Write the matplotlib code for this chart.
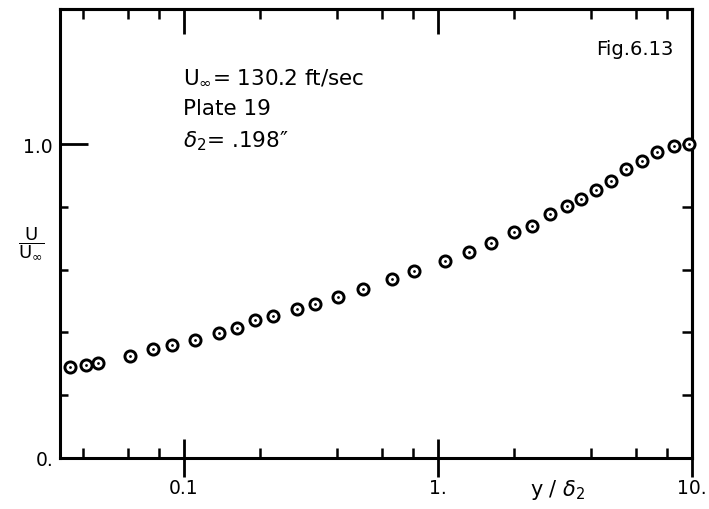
# Fig 6.13 velocity profile, U/Uinf vs y/delta2 (semi-log)

import matplotlib.pyplot as plt
import numpy as np

y_d2 = [0.0356, 0.0411, 0.0457, 0.0613, 0.0756, 0.0898, 0.111, 0.137,
        0.161, 0.190, 0.225, 0.278, 0.327, 0.403, 0.507, 0.657,
        0.807, 1.07, 1.32, 1.62, 2.00, 2.34, 2.77, 3.23,
        3.67, 4.18, 4.79, 5.51, 6.34, 7.31, 8.51, 9.77]
u_ratio = [0.289, 0.296, 0.301, 0.326, 0.348, 0.359, 0.376, 0.398,
           0.415, 0.439, 0.451, 0.475, 0.490, 0.512, 0.539, 0.570,
           0.597, 0.628, 0.656, 0.685, 0.720, 0.739, 0.776, 0.801,
           0.825, 0.853, 0.883, 0.919, 0.946, 0.975, 0.995, 1.000]

x_major = [0.1, 1, 10]
x_major_labels = ["0.1", "1.", "10."]
x_minor = [0.04, 0.06, 0.08, 0.2, 0.4, 0.6, 0.8, 2, 4, 6, 8]
y_major = [0, 1.0]
y_major_labels = ["0.", "1.0"]
y_minor = [0.2, 0.4, 0.6, 0.8]

W, H = 709, 510
fig = plt.figure(figsize=(W / 100, H / 100), dpi=100)
ax = fig.add_axes([60 / W, 1 - 459 / H, (692 - 60) / W, (459 - 10) / H])

ax.plot(y_d2, u_ratio, linestyle="none", marker="o", ms=8, mfc="white",
        mec="black", mew=2.1, clip_on=False, zorder=3)
ax.plot(y_d2, u_ratio, linestyle="none", marker="o", ms=2.0, mfc="black",
        mec="black", mew=0, clip_on=False, zorder=4)

ax.set_xscale("log")
ax.set_xlim(0.0325, 10)
ax.set_ylim(0, 1.43)

for s in ax.spines.values():
    s.set_linewidth(2.2)

ax.set_xticks(x_major, x_major_labels)
ax.set_xticks(x_minor, [""] * len(x_minor), minor=True)
ax.set_yticks(y_major, y_major_labels)
ax.set_yticks(y_minor, [""] * len(y_minor), minor=True)

ax.tick_params(axis="x", which="major", direction="inout", length=27,
               width=2.0, pad=1, labelsize=13.5, top=False)
ax.tick_params(axis="x", which="minor", direction="in", length=7.5,
               width=1.8, top=False)
ax.tick_params(axis="y", which="major", direction="in", length=20,
               width=2.0, pad=5, labelsize=13.5, right=False)
ax.tick_params(axis="y", which="minor", direction="in", length=6,
               width=1.8, right=False)

# top and right ticks
top = ax.secondary_xaxis("top")
top.set_xticks(x_major, [""] * len(x_major))
top.set_xticks(x_minor, [""] * len(x_minor), minor=True)
top.tick_params(which="major", direction="in", length=18, width=2.0)
top.tick_params(which="minor", direction="in", length=7, width=1.8)
top.spines["top"].set_linewidth(2.2)

right = ax.secondary_yaxis("right")
right.set_yticks(y_minor + [1.0], [""] * (len(y_minor) + 1))
right.tick_params(which="major", direction="in", length=7.5, width=1.8)
right.tick_params(which="minor", length=0)
right.spines["right"].set_linewidth(2.2)

# labels
fig.text(31 / W, 1 - 244 / H, r"$\dfrac{\mathrm{U}}{\mathrm{U}_\infty}$",
         fontsize=13, ha="center", va="center")
fig.text(558 / W, 1 - 490 / H, r"y / $\delta_2$", fontsize=15,
         ha="center", va="center")

fig.text(183 / W, 1 - 83 / H, r"$\mathrm{U}_\infty$= 130.2 ft/sec",
         fontsize=15.5, va="baseline")
fig.text(183 / W, 1 - 115 / H, "Plate 19", fontsize=15.5, va="baseline")
fig.text(183 / W, 1 - 147 / H, "$\\delta_2$= .198\u2033", fontsize=15.5,
         va="baseline")
fig.text(673 / W, 1 - 55 / H, "Fig.6.13", fontsize=14, ha="right",
         va="baseline")

plt.savefig("out.png", dpi=100)
